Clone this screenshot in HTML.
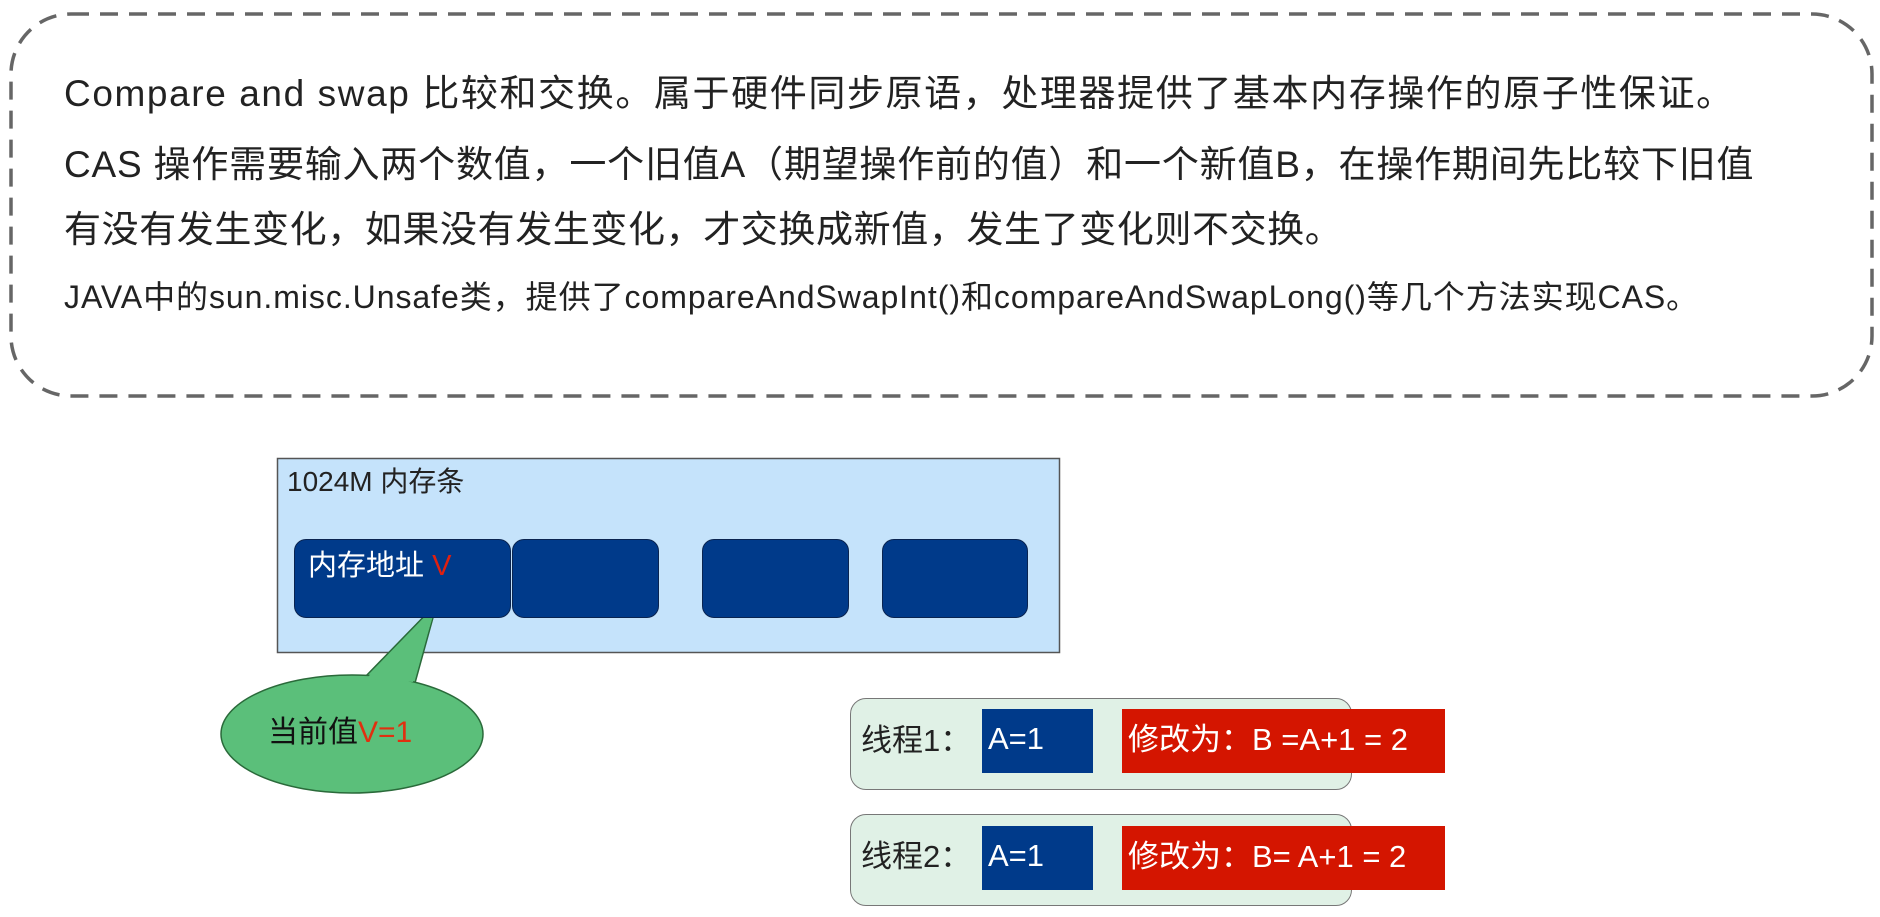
<!DOCTYPE html>
<html><head><meta charset="utf-8"><style>
body{margin:0;width:1880px;height:917px;background:#fff;position:relative;overflow:hidden;font-family:"Liberation Sans","Noto Sans CJK SC",sans-serif;color:#222}
.t{position:absolute;white-space:nowrap;line-height:1}
.blk{position:absolute;background:#003a8a;border:1.5px solid #0a2450;border-radius:12px;box-sizing:border-box}
.th{position:absolute;background:#e0f1e6;border:1.5px solid #777;border-radius:16px;box-sizing:border-box;width:502px;height:92px;left:850px}
.bl{position:absolute;background:#003a8a;left:982px;width:111px;height:64px;color:#fff;font-size:31px;line-height:60px;padding-left:6px;box-sizing:border-box}
.rd{position:absolute;background:#d41500;left:1122px;width:323px;height:64px;color:#fff;font-size:31px;line-height:62px;padding-left:6px;box-sizing:border-box;white-space:nowrap}
</style></head><body>
<svg width="1880" height="917" style="position:absolute;left:0;top:0">
<rect x="11" y="14" width="1861" height="382" rx="60" fill="none" stroke="#666" stroke-width="3.5" stroke-dasharray="18 11"/>
<rect x="277.5" y="458.5" width="782" height="194" fill="#c5e3fb" stroke="#555" stroke-width="1.5"/>
<path d="M364 678 L437 603 L415 683 Z" fill="#5bbf7a" stroke="#2a6a3a" stroke-width="1.5"/>
<ellipse cx="352" cy="734" rx="131" ry="59" fill="#5bbf7a" stroke="#2a6a3a" stroke-width="1.5"/>
<path d="M366 679 L436 606 L413 682" fill="#5bbf7a"/>
</svg>
<div class="t" style="left:64px;top:75px;font-size:37px;letter-spacing:1.6px">Compare and swap 比较和交换。属于硬件同步原语，处理器提供了基本内存操作的原子性保证。</div>
<div class="t" style="left:64px;top:146px;font-size:37px;letter-spacing:0.8px">CAS 操作需要输入两个数值，一个旧值A（期望操作前的值）和一个新值B，在操作期间先比较下旧值</div>
<div class="t" style="left:64px;top:211px;font-size:37px;letter-spacing:0.6px">有没有发生变化，如果没有发生变化，才交换成新值，发生了变化则不交换。</div>
<div class="t" style="left:64px;top:281px;font-size:32px;letter-spacing:0.95px">JAVA中的sun.misc.Unsafe类，提供了compareAndSwapInt()和compareAndSwapLong()等几个方法实现CAS。</div>
<div class="t" style="left:287px;top:468px;font-size:28px">1024M 内存条</div>
<div class="blk" style="left:294px;top:539px;width:217px;height:79px"></div>
<div class="blk" style="left:512px;top:539px;width:147px;height:79px"></div>
<div class="blk" style="left:702px;top:539px;width:147px;height:79px"></div>
<div class="blk" style="left:882px;top:539px;width:146px;height:79px"></div>
<div class="t" style="left:308px;top:552px;font-size:29px;color:#fff">内存地址 <span style="color:#e02010">V</span></div>
<div class="t" style="left:268px;top:718px;font-size:30px;color:#111">当前值<span style="color:#e03010">V=1</span></div>
<div class="th" style="top:698px"></div>
<div class="th" style="top:814px"></div>
<div class="t" style="left:861px;top:725px;font-size:31px">线程1：</div>
<div class="t" style="left:861px;top:841px;font-size:31px">线程2：</div>
<div class="bl" style="top:709px">A=1</div>
<div class="rd" style="top:709px">修改为：B =A+1 = 2</div>
<div class="bl" style="top:826px">A=1</div>
<div class="rd" style="top:826px">修改为：B= A+1 = 2</div>
</body></html>
